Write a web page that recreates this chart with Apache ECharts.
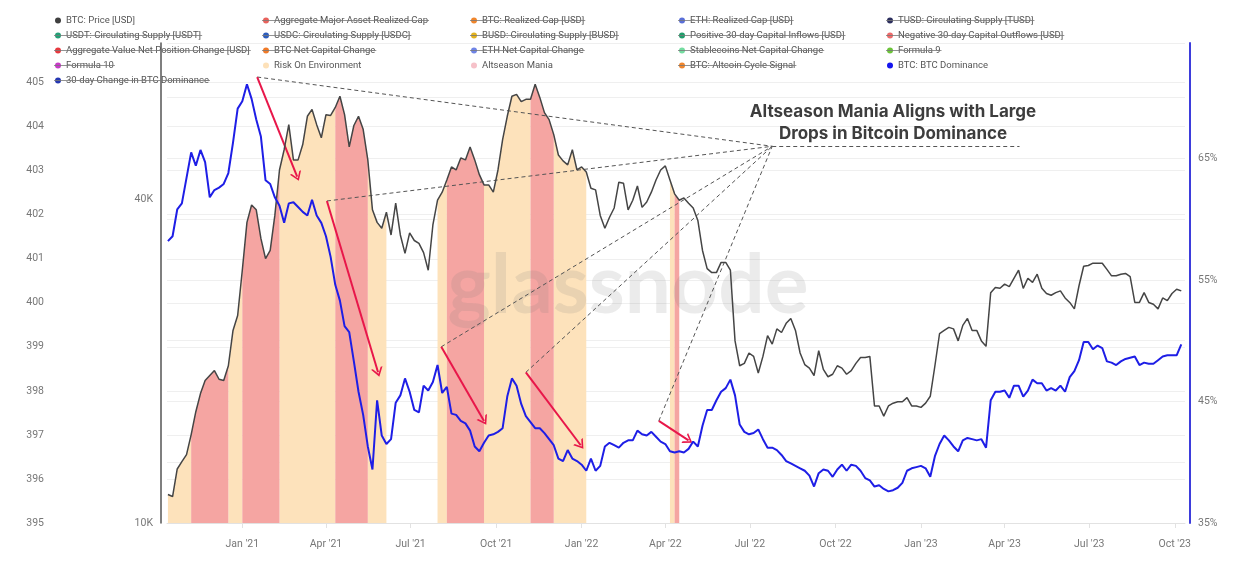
<!DOCTYPE html>
<html>
<head>
<meta charset="utf-8">
<title>Altseason Mania vs BTC Dominance</title>
<script src="https://cdn.jsdelivr.net/npm/echarts@6/dist/echarts.min.js"></script>
<style>
html, body { margin: 0; padding: 0; background: #fff; }
#main { width: 1245px; height: 576px; }
</style>
</head>
<body>
<div id="main"></div>
<script>
// values, one sample every 5 days
var startDay = '2020-10-13';
var stepDays = 5;

var btcPrice = [
  11300, 11200, 12600, 13000, 13400, 14600, 16100, 17400, 18400, 18800,
  19200, 18500, 18400, 19600, 22800, 24300, 29500, 36200, 39000, 38200,
  33800, 31000, 32100, 37300, 45300, 49400, 55000, 47300, 47300, 50500,
  57000, 58700, 55000, 52000, 57400, 57200, 59200, 62100, 57400, 50000,
  54800, 57000, 53900, 47300, 38200, 36200, 35300, 37800, 34300, 39300,
  34300, 31700, 34600, 33500, 33100, 31800, 29500, 35800, 39800, 41200,
  43400, 45900, 45300, 47700, 47300, 50000, 47300, 44400, 42500, 42500,
  41200, 45300, 51600, 57000, 62100, 62600, 60700, 61300, 61300, 65400,
  61800, 57900, 56200, 52700, 48300, 47100, 46300, 49400, 45300, 45900,
  44900, 41900, 41600, 37300, 35300, 37000, 38500, 43000, 42800, 38200,
  39800, 42300, 38600, 39500, 41200, 43400, 45300, 46100, 43400, 40900,
  39800, 40200, 39300, 38500, 36500, 32100, 29700, 29200, 29200, 30500,
  30500, 29500, 21800, 19600, 19800, 20700, 20400, 19000, 20400, 22300,
  21500, 22950, 22600, 23500, 24000, 22800, 20700, 19700, 19400, 18800,
  20900, 19300, 18700, 18900, 19600, 19400, 18900, 19200, 19800, 20300,
  20300, 20400, 16500, 16500, 15800, 16500, 16700, 16800, 16800, 17100,
  16500, 16500, 16400, 16700, 17200, 19600, 22500, 22800, 23100, 22950,
  21800, 23300, 24000, 22800, 22800, 21800, 21300, 26800, 27400, 27300,
  27800, 27500, 28500, 29500, 27300, 28500, 28000, 29000, 27300, 26700,
  26500, 26800, 27000, 26200, 25700, 25000, 27600, 30000, 30100, 30400,
  30400, 30400, 29600, 28800, 28800, 29000, 29100, 28700, 25700, 25700,
  26800, 25700, 25500, 25000, 26200, 25900, 26700, 27200, 27000
];

var btcDominance = [
  58.2, 58.6, 60.8, 61.3, 63.4, 65.5, 64.4, 65.7, 64.7, 61.8,
  62.4, 62.6, 62.9, 63.8, 66.3, 69.1, 69.7, 71.1, 69.9, 68.2,
  66.8, 63.2, 62.9, 61.8, 61.1, 59.7, 61.3, 61.4, 61.0, 60.6,
  60.3, 61.6, 60.3, 59.7, 58.6, 56.9, 54.6, 53.3, 51.2, 50.7,
  48.3, 45.8, 43.9, 41.3, 39.4, 45.1, 42.2, 41.5, 41.9, 44.9,
  45.5, 46.9, 45.8, 44.3, 44.1, 46.3, 45.9, 46.6, 48.0, 45.7,
  46.2, 44.0, 43.9, 43.4, 43.2, 42.6, 41.3, 40.9, 41.6, 42.2,
  42.3, 42.5, 42.8, 45.4, 46.9, 46.3, 44.8, 43.8, 43.3, 42.8,
  42.8, 42.4, 41.9, 41.4, 40.3, 40.1, 41.0, 40.3, 40.1, 39.8,
  39.3, 40.3, 39.3, 39.7, 41.3, 41.6, 41.4, 41.2, 41.6, 41.8,
  41.8, 42.6, 42.3, 42.2, 42.5, 42.1, 41.7, 41.5, 40.9, 40.8,
  40.9, 40.8, 41.1, 41.7, 41.3, 43.0, 44.3, 44.3, 45.1, 45.8,
  46.1, 46.8, 45.5, 43.1, 42.5, 42.3, 42.4, 42.7, 41.9, 41.2,
  41.2, 41.0, 40.6, 40.1, 39.9, 39.7, 39.5, 39.3, 38.9, 38.0,
  39.1, 39.4, 39.3, 38.8, 39.4, 39.8, 39.3, 39.8, 39.7, 39.3,
  38.7, 38.5, 38.0, 38.1, 37.8, 37.6, 37.7, 37.9, 38.3, 39.3,
  39.5, 39.6, 39.7, 39.5, 38.8, 40.5, 41.5, 42.2, 41.8, 41.3,
  40.9, 41.8, 42.0, 41.9, 41.8, 41.9, 41.2, 45.1, 45.8, 45.8,
  45.9, 45.3, 46.3, 46.3, 45.4, 45.9, 46.8, 46.5, 46.5, 45.9,
  46.1, 45.9, 46.3, 45.8, 47.0, 47.5, 48.4, 49.9, 49.9, 49.3,
  49.6, 49.4, 48.3, 48.2, 48.0, 48.3, 48.5, 48.6, 48.7, 48.0,
  48.2, 48.1, 48.1, 48.4, 48.7, 48.8, 48.8, 48.8, 49.7
];

var riskOnPeriods = [
  ['2020-10-13', '2020-11-06'], ['2020-12-13', '2020-12-31'], ['2021-02-06', '2021-04-10'],
  ['2021-05-12', '2021-06-06'], ['2021-07-28', '2021-08-08'], ['2021-09-14', '2021-11-06'],
  ['2021-11-28', '2022-01-07'], ['2022-04-04', '2022-04-09']
];
var altseasonPeriods = [
  ['2020-11-07', '2020-12-12'], ['2021-01-01', '2021-02-05'], ['2021-04-11', '2021-05-11'],
  ['2021-08-09', '2021-09-13'], ['2021-11-07', '2021-11-27'], ['2022-04-10', '2022-04-17']
];

var priceTicks = [10000, 40000];
var monthNames = ['Jan', 'Feb', 'Mar', 'Apr', 'May', 'Jun', 'Jul', 'Aug', 'Sep', 'Oct', 'Nov', 'Dec'];

var legendNames = [
  'BTC: Price [USD]', 'Aggregate Major Asset Realized Cap', 'BTC: Realized Cap [USD]', 'ETH: Realized Cap [USD]', 'TUSD: Circulating Supply [TUSD]',
  'USDT: Circulating Supply [USDT]', 'USDC: Circulating Supply [USDC]', 'BUSD: Circulating Supply [BUSD]', 'Positive 30-day Capital Inflows [USD]', 'Negative 30-day Capital Outflows [USD]',
  'Aggregate Value Net Position Change [USD]', 'BTC Net Capital Change', 'ETH Net Capital Change', 'Stablecoins Net Capital Change', 'Formula 9',
  'Formula 10', 'Risk On Environment', 'Altseason Mania', 'BTC: Altcoin Cycle Signal', 'BTC: BTC Dominance',
  '30-day Change in BTC Dominance'
];
var legendColors = [
  '#3f3f3f', '#e8625c', '#f0862c', '#5a6fd8', '#2c2f5e',
  '#23a077', '#2c5cbc', '#e2b21f', '#1f9d6b', '#ee6b6b',
  '#e63a3f', '#f07a28', '#6f84e6', '#74dca0', '#6cc43a',
  '#c83ac8', '#fde1b9', '#f6c1c9', '#f0862c', '#1515ee',
  '#2638b2'
];
var shownOnChart = ['BTC: Price [USD]', 'Risk On Environment', 'Altseason Mania', 'BTC: BTC Dominance'];

// annotation arrows, [date, dominance %]
var arrows = [
  [['2021-01-17', 71.7], ['2021-03-01', 63.5]],
  [['2021-04-02', 61.5], ['2021-05-27', 47.4]],
  [['2021-08-03', 49.5], ['2021-09-18', 43.4]],
  [['2021-11-02', 47.4], ['2021-12-31', 41.4]],
  [['2022-03-25', 43.4], ['2022-04-26', 41.8]]
];
var focusPoint = ['2022-07-25', 66.0];
var underlineEnd = ['2023-04-17', 66.0];
var noteLines = ['Altseason Mania Aligns with Large', 'Drops in Bitcoin Dominance'];

function day(s) {
  var p = s.split('-');
  return new Date(+p[0], p[1] - 1, +p[2]).getTime();
}

var dates = [];
for (var i = 0; i < btcPrice.length; i++) {
  var d = new Date(day(startDay));
  d.setDate(d.getDate() + i * stepDays);
  dates.push(d.getTime());
}

function inPeriods(t, periods) {
  for (var k = 0; k < periods.length; k++) {
    if (t >= day(periods[k][0]) && t <= day(periods[k][1])) return true;
  }
  return false;
}
var regime = dates.map(function (t) {
  if (inPeriods(t, altseasonPeriods)) return 'alt';
  if (inPeriods(t, riskOnPeriods)) return 'risk';
  return '';
});
function bandData(kind) {
  return dates.map(function (t, i) {
    var on = regime[i] === kind || (i > 0 && regime[i - 1] === kind && regime[i] !== '');
    return [t, on ? btcPrice[i] : null];
  });
}

// open V head, like the hand-drawn arrows
var chevron = 'path://M0,10 L5,0 L10,10 L8.4,10 L5,3.2 L1.6,10 Z';
var redLine = {color: '#e8174a', width: 2, type: 'solid'};
var dashLine = {color: '#555', width: 1, type: [4, 3]};
var notes = [];
arrows.forEach(function (a) {
  notes.push([
    {coord: [day(a[0][0]), a[0][1]], symbol: 'none', lineStyle: dashLine},
    {coord: [day(focusPoint[0]), focusPoint[1]], symbol: 'none', lineStyle: dashLine}
  ]);
  notes.push([
    {coord: [day(a[0][0]), a[0][1]], symbol: 'none', lineStyle: redLine},
    {coord: [day(a[1][0]), a[1][1]], symbol: chevron, symbolSize: [12, 9], lineStyle: redLine}
  ]);
});
notes.push([
  {coord: [day(focusPoint[0]), focusPoint[1]], symbol: 'none', lineStyle: dashLine},
  {coord: [day(underlineEnd[0]), underlineEnd[1]], symbol: 'none', lineStyle: dashLine}
]);

var series = [
  {
    name: 'Risk On Environment', type: 'line', yAxisIndex: 1, z: 1,
    data: bandData('risk'), showSymbol: false, symbol: 'none',
    color: '#fde1b9', lineStyle: {width: 0}, areaStyle: {color: '#fde2bb', opacity: 1, origin: 'start'}
  },
  {
    name: 'Altseason Mania', type: 'line', yAxisIndex: 1, z: 1,
    data: bandData('alt'), showSymbol: false, symbol: 'none',
    color: '#f6c1c9', lineStyle: {width: 0}, areaStyle: {color: '#f5a5a2', opacity: 1, origin: 'start'}
  },
  {
    name: 'BTC: Price [USD]', type: 'line', yAxisIndex: 1, z: 5,
    data: dates.map(function (t, i) { return [t, btcPrice[i]]; }),
    showSymbol: false, symbol: 'none', color: '#3f3f3f',
    lineStyle: {color: '#454545', width: 1.5}
  },
  {
    name: 'BTC: BTC Dominance', type: 'line', yAxisIndex: 2, z: 6,
    data: dates.map(function (t, i) { return [t, btcDominance[i]]; }),
    showSymbol: false, symbol: 'none', color: '#1515ee',
    lineStyle: {color: '#1e1ee6', width: 2},
    markLine: {
      silent: true, animation: false, label: {show: false},
      emphasis: {disabled: true}, data: notes
    }
  }
];
legendNames.forEach(function (n, k) {
  if (shownOnChart.indexOf(n) < 0) {
    series.push({name: n, type: 'line', data: [], color: legendColors[k]});
  }
});

// legend grid: 5 columns
var legLeft = 55, legTop = 13, colPitch = 208, rowPitch = 15, dot = 6;
var legFont = 'Roboto';
var legSize = 9.5;

var ctx = document.createElement('canvas').getContext('2d');
ctx.font = legSize + 'px ' + legFont;
var graphics = [];
legendNames.forEach(function (n, k) {
  if (shownOnChart.indexOf(n) >= 0) return;
  var col = k % 5, row = Math.floor(k / 5);
  var x0 = legLeft + col * colPitch;
  var y = legTop + row * rowPitch + rowPitch / 2;
  var w = ctx.measureText(n).width;
  graphics.push({
    type: 'line', silent: true, z: 20,
    shape: {x1: x0 - 1, y1: y, x2: x0 + dot + 5 + w + 1, y2: y},
    style: {stroke: '#777', lineWidth: 0.8}
  });
});
graphics.push({
  type: 'text', silent: true, z: 3, x: 628, y: 287,
  style: {text: 'glassnode', font: 'bold 82px Lato', fill: 'rgba(120,120,120,0.15)', align: 'center', verticalAlign: 'middle'}
});
noteLines.forEach(function (t, k) {
  graphics.push({
    type: 'text', silent: true, z: 20, x: 893, y: 112 + k * 21.5,
    style: {text: t, font: 'bold 17px Inter', fill: '#3d3d3d', align: 'center', verticalAlign: 'middle'}
  });
});

var chart = echarts.init(document.getElementById('main'));
var axisText = {color: '#777', fontSize: 10.5, fontFamily: 'Roboto'};
var gridLine = {show: true, lineStyle: {color: '#efefef', width: 1}};
var dayMs = 24 * 3600 * 1000;

chart.setOption({
  animation: false,
  backgroundColor: '#fff',
  grid: {left: 167, right: 60, top: 43, bottom: 53},
  legend: {
    left: legLeft, top: legTop, width: 1050, padding: 0, itemGap: 0,
    itemWidth: dot, itemHeight: dot, icon: 'circle', selectedMode: false,
    textStyle: {fontFamily: legFont, fontSize: legSize, color: '#555', width: colPitch - dot - 5, lineHeight: rowPitch},
    data: legendNames.map(function (n, k) {
      return {name: n, itemStyle: {color: legendColors[k]}};
    })
  },
  xAxis: {
    type: 'time', min: day('2020-10-12'), max: day('2023-10-12'),
    minInterval: 80 * dayMs, maxInterval: 100 * dayMs,
    axisLine: {show: true, lineStyle: {color: '#e2e2e2'}},
    axisTick: {show: true, length: 5, lineStyle: {color: '#e2e2e2'}},
    splitLine: {show: false},
    axisLabel: Object.assign({}, axisText, {
      margin: 16, hideOverlap: false,
      formatter: function (v) {
        var d = new Date(v);
        return monthNames[d.getMonth()] + " '" + String(d.getFullYear()).slice(2);
      }
    })
  },
  yAxis: [
    {
      type: 'value', position: 'left', offset: 115, min: 395, max: 405.9, interval: 1,
      axisLine: {show: false}, axisTick: {show: false}, splitLine: gridLine,
      axisLabel: Object.assign({}, axisText, {
        formatter: function (v) { return Math.abs(v - Math.round(v)) < 1e-6 ? String(Math.round(v)) : ''; }
      })
    },
    {
      type: 'log', logBase: 10, position: 'left', offset: 6, min: 10000, max: 78000,
      axisLine: {show: true, lineStyle: {color: '#555', width: 1.5}},
      axisTick: {show: false}, splitLine: {show: false},
      axisLabel: Object.assign({}, axisText, {
        customValues: priceTicks,
        formatter: function (v) { return Math.round(v / 1000) + 'K'; }
      })
    },
    {
      type: 'value', position: 'right', offset: 5, min: 35, max: 74.5, interval: 10,
      axisLine: {show: true, lineStyle: {color: '#3d3ddc', width: 2}},
      axisTick: {show: false}, splitLine: gridLine,
      minorTick: {show: false, splitNumber: 2},
      minorSplitLine: {show: true, lineStyle: {color: '#efefef', width: 1}},
      axisLabel: Object.assign({}, axisText, {
        formatter: function (v) { return (v - 35) % 10 === 0 ? v + '%' : ''; }
      })
    }
  ],
  graphic: graphics,
  series: series
});
</script>
</body>
</html>
